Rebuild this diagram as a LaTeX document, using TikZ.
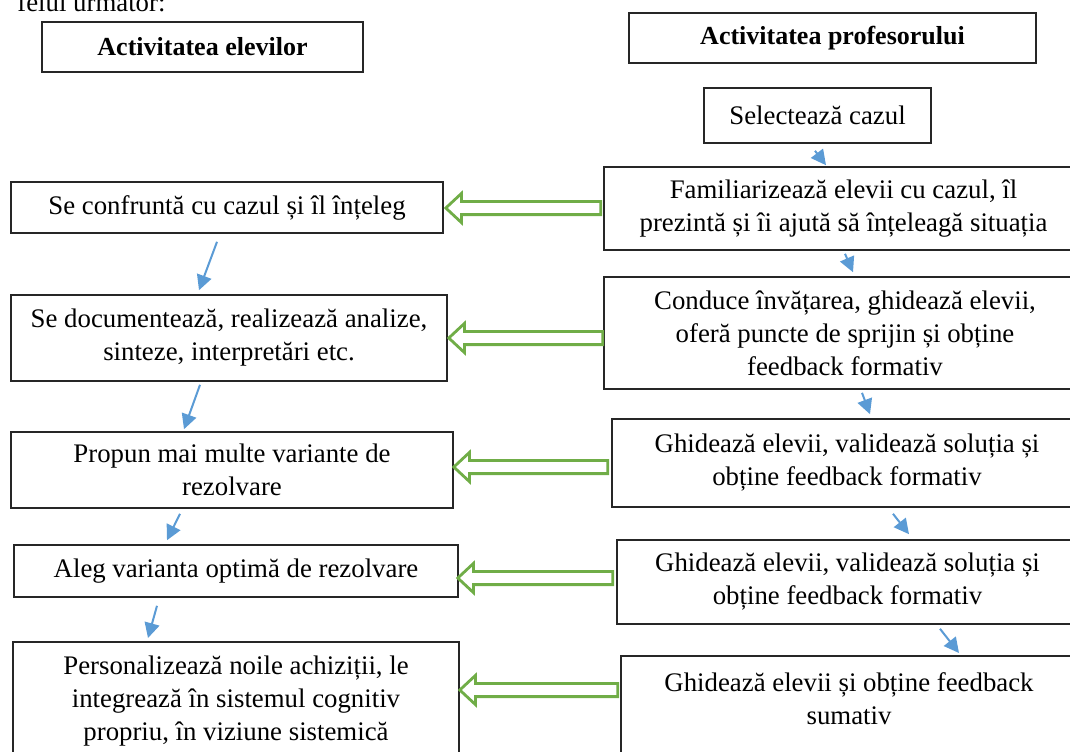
\documentclass[tikz,border=0pt]{standalone}
\usepackage{fontspec}
\setmainfont{Liberation Serif}
\usepackage{tikz}
\usepackage{xcolor}
\usetikzlibrary{shapes, shapes.arrows, positioning, arrows.meta}

\definecolor{arrowblue}{HTML}{5B9BD5}
\definecolor{arrowgreen}{HTML}{70AD47}

\tikzset{
    box/.style={draw=black!85, line width=0.8pt, align=center, inner sep=2pt,
        font=\fontsize{13.4}{16.5}\selectfont},
    headbox/.style={box, font=\fontsize{13}{16}\selectfont\bfseries},
    flow/.style={draw=arrowblue, line width=1pt, -{Triangle[length=7.5pt, width=7.5pt]}},
    hollow/.style={single arrow, draw=arrowgreen, line width=1.4pt, fill=white,
        shape border rotate=180, inner xsep=0pt, inner ysep=2.6pt,
        single arrow head extend=4pt, single arrow tip angle=86,
        single arrow head indent=0pt, anchor=tail}
}

\begin{document}
\begin{tikzpicture}[x=0.5pt, y=-0.5pt]
        \useasboundingbox (0, 0) rectangle (1070, 751);

        \node[anchor=base west, inner sep=0pt, font=\fontsize{13.4}{16.5}\selectfont] (intro) at (17, 11) {felul următor:};

        % headers
        \node[headbox, minimum width=160.5pt, minimum height=25pt] (hl) at (202.5, 47) {Activitatea elevilor};
        \node[headbox, minimum width=203.5pt, minimum height=25pt] (hp) at (832.5, 38) {Activitatea profesorului};

        % profesor
        \node[box, minimum width=113.5pt, minimum height=27.5pt] (sel) at (817.5, 115.5) {Selectează cazul};
        \node[box, minimum width=239.5pt, minimum height=41.5pt] (p1) at (843.5, 208.5) {Familiarizează elevii cu cazul, îl\\prezintă și îi ajută să înțeleagă situația};
        \node[box, minimum width=241pt, minimum height=56pt] (p2) at (845, 333) {Conduce învățarea, ghidează elevii,\\oferă puncte de sprijin și obține\\feedback formativ};
        \node[box, minimum width=235pt, minimum height=44pt] (p3) at (847, 463) {Ghidează elevii, validează soluția și\\obține feedback formativ};
        \node[box, minimum width=230.5pt, minimum height=42pt] (p4) at (847.5, 582) {Ghidează elevii, validează soluția și\\obține feedback formativ};
        \node[box, minimum width=228pt, anchor=north, inner ysep=8.5pt, text depth=60pt] (p5) at (849, 655) {Ghidează elevii și obține feedback\\sumativ};

        % elevi
        \node[box, minimum width=216pt, minimum height=25.5pt] (e1) at (227, 207.5) {Se confruntă cu cazul și îl înțeleg};
        \node[box, minimum width=218pt, minimum height=43pt] (e2) at (229, 338) {Se documentează, realizează analize,\\sinteze, interpretări etc.};
        \node[box, minimum width=221pt, minimum height=38pt] (e3) at (232, 470) {Propun mai multe variante de\\rezolvare};
        \node[box, minimum width=222pt, minimum height=26pt] (e4) at (236, 571) {Aleg varianta optimă de rezolvare};
        \node[box, minimum width=223pt, anchor=north, inner ysep=7pt, text depth=40pt] (e5) at (236, 641) {Personalizează noile achiziții, le\\integrează în sistemul cognitiv\\propriu, în viziune sistemică};

        % blue arrows
        \draw[flow] ([shift={(-2.5, 7)}]sel.south) -- ([shift={(-17.5, -1)}]p1.north);
        \draw[flow] ([shift={(1.5, 3)}]p1.south) -- ([shift={(8, -4)}]p2.north);
        \draw[flow] ([shift={(17, 3)}]p2.south) -- ([shift={(23, -4)}]p3.north);
        \draw[flow] ([shift={(46, 6)}]p3.south) -- ([shift={(61.5, -5)}]p4.north);
        \draw[flow] ([shift={(92.5, 4)}]p4.south) -- ([shift={(110, -2)}]p5.north);

        \draw[flow] ([shift={(-10, 8)}]e1.south) -- ([shift={(-30, -4)}]e2.north);
        \draw[flow] ([shift={(-29, 3)}]e2.south) -- ([shift={(-48, -2)}]e3.north);
        \draw[flow] ([shift={(-52, 5)}]e3.south) -- ([shift={(-69, -4)}]e4.north);
        \draw[flow] ([shift={(-79, 8)}]e4.south) -- ([shift={(-88, -3)}]e5.north);

        % green arrows
        \node[hollow, minimum height=77.5pt] (g1) at ([shift={(-1, -0.5)}]p1.west) {};
        \node[hollow, minimum height=77pt] (g2) at ([shift={(1, 5)}]p2.west) {};
        \node[hollow, minimum height=77pt] (g3) at ([shift={(-2, 4)}]p3.west) {};
        \node[hollow, minimum height=77.5pt] (g4) at ([shift={(-2, -4)}]p4.west) {};
        \node[hollow, minimum height=79pt] (g5) at ([shift={(-1, 35)}]p5.north west) {};
    \end{tikzpicture}
\end{document}
